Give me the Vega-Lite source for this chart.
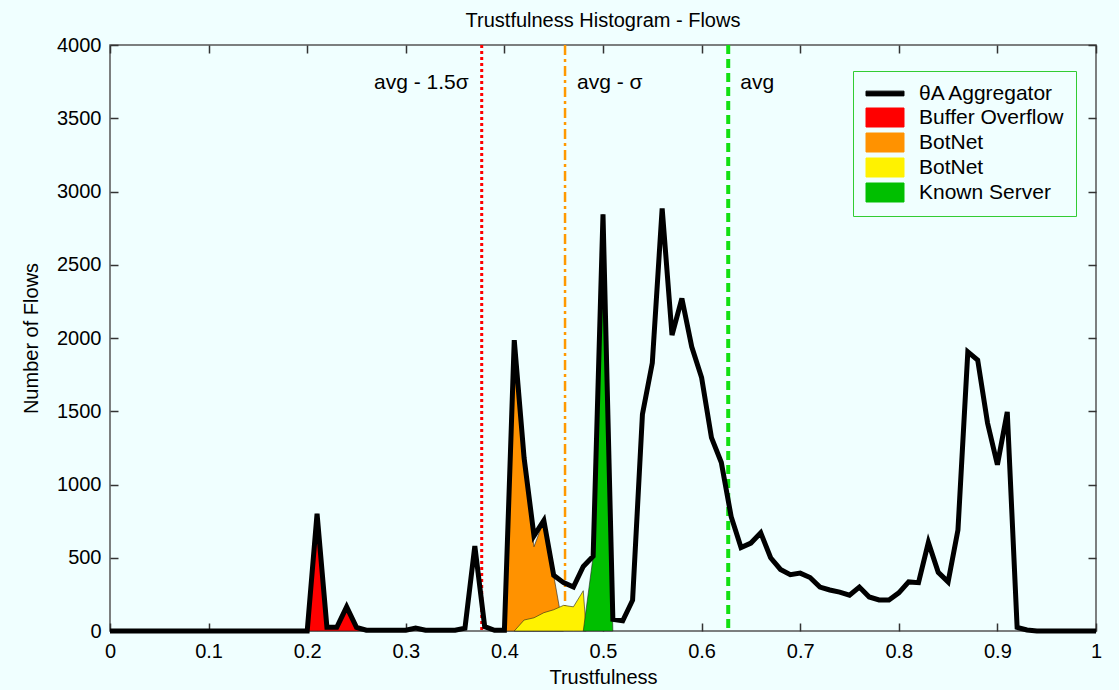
{
  "$schema": "https://vega.github.io/schema/vega-lite/v6.json",
  "width": 986,
  "height": 586,
  "autosize": {"type": "none"},
  "padding": {"left": 110, "top": 45, "right": 23, "bottom": 59},
  "background": "#f0ffff",
  "title": {"text": "Trustfulness Histogram - Flows", "font": "Liberation Sans", "fontSize": 20, "fontWeight": "normal", "color": "black", "anchor": "middle", "offset": 4},
  "config": {
    "view": {"stroke": "#555555", "strokeWidth": 1.5, "fill": "#f0ffff"},
    "axis": {"labelFont": "Liberation Sans", "labelFontSize": 20, "labelColor": "black", "titleFont": "Liberation Sans", "titleFontSize": 20, "titleFontWeight": "normal", "titleColor": "black", "domain": false, "grid": false, "ticks": true, "tickColor": "#333333", "tickWidth": 1.5, "tickSize": 8, "offset": -8, "zindex": 2, "labelFlush": false, "labelOverlap": false}
  },
  "datasets": {
    "hist": [
      {"t":0.00,"series":"agg","flows":0},{"t":0.01,"series":"agg","flows":0},{"t":0.02,"series":"agg","flows":0},{"t":0.03,"series":"agg","flows":0},{"t":0.04,"series":"agg","flows":0},{"t":0.05,"series":"agg","flows":0},{"t":0.06,"series":"agg","flows":0},{"t":0.07,"series":"agg","flows":0},{"t":0.08,"series":"agg","flows":0},{"t":0.09,"series":"agg","flows":0},
      {"t":0.10,"series":"agg","flows":0},{"t":0.11,"series":"agg","flows":0},{"t":0.12,"series":"agg","flows":0},{"t":0.13,"series":"agg","flows":0},{"t":0.14,"series":"agg","flows":0},{"t":0.15,"series":"agg","flows":0},{"t":0.16,"series":"agg","flows":0},{"t":0.17,"series":"agg","flows":0},{"t":0.18,"series":"agg","flows":0},{"t":0.19,"series":"agg","flows":0},
      {"t":0.20,"series":"agg","flows":0},{"t":0.21,"series":"agg","flows":800},{"t":0.22,"series":"agg","flows":25},{"t":0.23,"series":"agg","flows":25},{"t":0.24,"series":"agg","flows":165},{"t":0.25,"series":"agg","flows":25},{"t":0.26,"series":"agg","flows":5},{"t":0.27,"series":"agg","flows":5},{"t":0.28,"series":"agg","flows":5},{"t":0.29,"series":"agg","flows":5},
      {"t":0.30,"series":"agg","flows":5},{"t":0.31,"series":"agg","flows":20},{"t":0.32,"series":"agg","flows":5},{"t":0.33,"series":"agg","flows":5},{"t":0.34,"series":"agg","flows":5},{"t":0.35,"series":"agg","flows":5},{"t":0.36,"series":"agg","flows":20},{"t":0.37,"series":"agg","flows":580},{"t":0.38,"series":"agg","flows":30},{"t":0.39,"series":"agg","flows":5},
      {"t":0.40,"series":"agg","flows":5},{"t":0.41,"series":"agg","flows":1985},{"t":0.42,"series":"agg","flows":1180},{"t":0.43,"series":"agg","flows":650},{"t":0.44,"series":"agg","flows":755},{"t":0.45,"series":"agg","flows":380},{"t":0.46,"series":"agg","flows":330},{"t":0.47,"series":"agg","flows":300},{"t":0.48,"series":"agg","flows":440},{"t":0.49,"series":"agg","flows":510},
      {"t":0.50,"series":"agg","flows":2845},{"t":0.51,"series":"agg","flows":80},{"t":0.52,"series":"agg","flows":70},{"t":0.53,"series":"agg","flows":210},{"t":0.54,"series":"agg","flows":1480},{"t":0.55,"series":"agg","flows":1830},{"t":0.56,"series":"agg","flows":2885},{"t":0.57,"series":"agg","flows":2020},{"t":0.58,"series":"agg","flows":2270},{"t":0.59,"series":"agg","flows":1940},
      {"t":0.60,"series":"agg","flows":1730},{"t":0.61,"series":"agg","flows":1320},{"t":0.62,"series":"agg","flows":1150},{"t":0.63,"series":"agg","flows":780},{"t":0.64,"series":"agg","flows":570},{"t":0.65,"series":"agg","flows":600},{"t":0.66,"series":"agg","flows":670},{"t":0.67,"series":"agg","flows":500},{"t":0.68,"series":"agg","flows":420},{"t":0.69,"series":"agg","flows":385},
      {"t":0.70,"series":"agg","flows":395},{"t":0.71,"series":"agg","flows":365},{"t":0.72,"series":"agg","flows":300},{"t":0.73,"series":"agg","flows":280},{"t":0.74,"series":"agg","flows":265},{"t":0.75,"series":"agg","flows":245},{"t":0.76,"series":"agg","flows":300},{"t":0.77,"series":"agg","flows":232},{"t":0.78,"series":"agg","flows":212},{"t":0.79,"series":"agg","flows":212},
      {"t":0.80,"series":"agg","flows":260},{"t":0.81,"series":"agg","flows":335},{"t":0.82,"series":"agg","flows":330},{"t":0.83,"series":"agg","flows":605},{"t":0.84,"series":"agg","flows":400},{"t":0.85,"series":"agg","flows":335},{"t":0.86,"series":"agg","flows":690},{"t":0.87,"series":"agg","flows":1905},{"t":0.88,"series":"agg","flows":1850},{"t":0.89,"series":"agg","flows":1420},
      {"t":0.90,"series":"agg","flows":1135},{"t":0.91,"series":"agg","flows":1495},{"t":0.92,"series":"agg","flows":25},{"t":0.93,"series":"agg","flows":7},{"t":0.94,"series":"agg","flows":0},{"t":0.95,"series":"agg","flows":0},{"t":0.96,"series":"agg","flows":0},{"t":0.97,"series":"agg","flows":0},{"t":0.98,"series":"agg","flows":0},{"t":0.99,"series":"agg","flows":0},{"t":1.00,"series":"agg","flows":0},
      {"t":0.20,"series":"bo","flows":0},{"t":0.21,"series":"bo","flows":800},{"t":0.22,"series":"bo","flows":25},{"t":0.23,"series":"bo","flows":25},{"t":0.24,"series":"bo","flows":165},{"t":0.25,"series":"bo","flows":25},{"t":0.26,"series":"bo","flows":0},
      {"t":0.40,"series":"bn1","flows":0},{"t":0.41,"series":"bn1","flows":1985},{"t":0.42,"series":"bn1","flows":1180},{"t":0.43,"series":"bn1","flows":575},{"t":0.44,"series":"bn1","flows":755},{"t":0.45,"series":"bn1","flows":380},{"t":0.46,"series":"bn1","flows":0},
      {"t":0.41,"series":"bn2","flows":0},{"t":0.42,"series":"bn2","flows":75},{"t":0.43,"series":"bn2","flows":90},{"t":0.44,"series":"bn2","flows":125},{"t":0.45,"series":"bn2","flows":145},{"t":0.46,"series":"bn2","flows":175},{"t":0.47,"series":"bn2","flows":165},{"t":0.48,"series":"bn2","flows":275},{"t":0.483,"series":"bn2","flows":0},
      {"t":0.48,"series":"ks","flows":0},{"t":0.49,"series":"ks","flows":510},{"t":0.50,"series":"ks","flows":2845},{"t":0.51,"series":"ks","flows":0}
    ],
    "refs": [
      {"t": 0.377, "name": "low", "label": "avg - 1.5σ", "y": 3740},
      {"t": 0.4615, "name": "mid", "label": "avg - σ", "y": 3740},
      {"t": 0.627, "name": "avg", "label": "avg", "y": 3740}
    ]
  },
  "layer": [
    {
      "encoding": {
        "x": {"field": "t", "type": "quantitative", "scale": {"domain": [0, 1], "nice": false, "zero": false},
          "axis": {"title": "Trustfulness", "values": [0,0.1,0.2,0.3,0.4,0.5,0.6,0.7,0.8,0.9,1], "format": "~g", "ticks": true, "tickSize": 8, "tickColor": "#333333", "labelPadding": 10, "titlePadding": 6}}
      },
      "layer": [
        {"data": {"name": "refs"}, "transform": [{"filter": "datum.name === 'low'"}], "mark": {"type": "rule", "color": "#ff0000", "strokeWidth": 3, "strokeDash": [3, 3]}, "encoding": {}},
        {"data": {"name": "refs"}, "transform": [{"filter": "datum.name === 'mid'"}], "mark": {"type": "rule", "color": "#ff9900", "strokeWidth": 2.5, "strokeDash": [10, 4, 3, 4]}, "encoding": {}},
        {"data": {"name": "refs"}, "transform": [{"filter": "datum.name === 'avg'"}], "mark": {"type": "rule", "color": "#11e011", "strokeWidth": 4, "strokeDash": [9, 5]}, "encoding": {}},
        {"data": {"name": "hist"}, "transform": [{"filter": "datum.series === 'bo'"}], "mark": {"type": "area", "opacity": 1, "stroke": "#222222", "strokeWidth": 0.6},
          "encoding": {"y": {"field": "flows", "type": "quantitative", "stack": null}, "color": {"field": "series", "type": "nominal"}}},
        {"data": {"name": "hist"}, "transform": [{"filter": "datum.series === 'bn1'"}], "mark": {"type": "area", "opacity": 1, "stroke": "#222222", "strokeWidth": 0.6},
          "encoding": {"y": {"field": "flows", "type": "quantitative", "stack": null}, "color": {"field": "series", "type": "nominal"}}},
        {"data": {"name": "hist"}, "transform": [{"filter": "datum.series === 'bn2'"}], "mark": {"type": "area", "opacity": 1, "stroke": "#222222", "strokeWidth": 0.6},
          "encoding": {"y": {"field": "flows", "type": "quantitative", "stack": null}, "color": {"field": "series", "type": "nominal"}}},
        {"data": {"name": "hist"}, "transform": [{"filter": "datum.series === 'ks'"}], "mark": {"type": "area", "opacity": 1, "stroke": "#222222", "strokeWidth": 0.6},
          "encoding": {"y": {"field": "flows", "type": "quantitative", "stack": null}, "color": {"field": "series", "type": "nominal"}}},
        {"data": {"name": "hist"}, "transform": [{"filter": "datum.series === 'agg'"}], "mark": {"type": "line", "strokeWidth": 5, "opacity": 1},
          "encoding": {
            "y": {"field": "flows", "type": "quantitative", "scale": {"domain": [0, 4000], "nice": false},
              "axis": {"title": "Number of Flows", "values": [0,500,1000,1500,2000,2500,3000,3500,4000], "format": "d", "ticks": true, "tickSize": 8, "tickColor": "#333333", "labelPadding": 9, "titlePadding": 15}},
            "color": {"field": "series", "type": "nominal",
              "scale": {"domain": ["agg", "bo", "bn1", "bn2", "ks"], "range": ["#000000", "#ff0000", "#ff9200", "#fff200", "#00bf00"]},
              "legend": {
                "orient": "none", "legendX": 743, "legendY": 26, "title": null,
                "symbolType": "M-1,-1H3V1H-1Z", "symbolSize": 361,
                "symbolStrokeColor": "black", "symbolStrokeWidth": 1, "symbolOpacity": 1,
                "labelFont": "Liberation Sans", "labelFontSize": 21, "labelColor": "black", "labelOffset": 33,
                "labelExpr": "datum.value === 'agg' ? 'θA Aggregator' : datum.value === 'bo' ? 'Buffer Overflow' : datum.value === 'ks' ? 'Known Server' : 'BotNet'",
                "rowPadding": 2, "padding": 12, "strokeColor": "#33cc33", "fillColor": "#f0ffff",
                "encoding": {"symbols": {
                  "shape": {"value": {"expr": "datum.value === 'agg' ? 'M-1,-0.25H3V0.25H-1Z' : 'M-1,-1H3V1H-1Z'"}},
                  "fill": {"value": {"expr": "scale('color', datum.value)"}}
                }}
              }}
          }},
        {"data": {"name": "refs"}, "transform": [{"filter": "datum.name === 'low'"}], "mark": {"type": "text", "align": "right", "dx": -13, "baseline": "middle", "font": "Liberation Sans", "fontSize": 21, "color": "black"},
          "encoding": {"y": {"field": "y", "type": "quantitative"}, "text": {"field": "label"}}},
        {"data": {"name": "refs"}, "transform": [{"filter": "datum.name !== 'low'"}], "mark": {"type": "text", "align": "left", "dx": 12, "baseline": "middle", "font": "Liberation Sans", "fontSize": 21, "color": "black"},
          "encoding": {"y": {"field": "y", "type": "quantitative"}, "text": {"field": "label"}}}
      ]
    },
    {"data": {"name": "refs"}, "mark": {"type": "rule", "opacity": 0}, "encoding": {
      "x": {"field": "t", "type": "quantitative", "scale": {"domain": [0, 1], "nice": false, "zero": false}, "axis": {"orient": "top", "labels": false, "title": null, "ticks": true, "tickSize": 8, "tickColor": "#333333", "values": [0,0.1,0.2,0.3,0.4,0.5,0.6,0.7,0.8,0.9,1]}},
      "y": {"field": "y", "type": "quantitative", "scale": {"domain": [0, 4000], "nice": false}, "axis": {"orient": "right", "labels": false, "title": null, "ticks": true, "tickSize": 8, "tickColor": "#333333", "values": [0,500,1000,1500,2000,2500,3000,3500,4000]}}
    }}
  ],
  "resolve": {"axis": {"x": "independent", "y": "independent"}}
}
